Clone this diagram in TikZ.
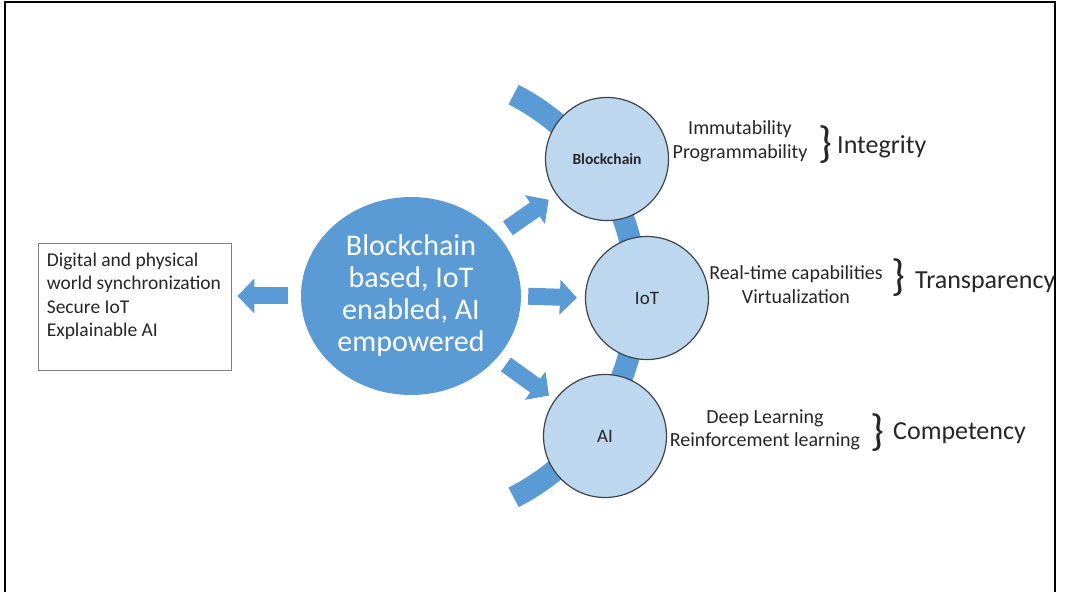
\documentclass[tikz,border=0pt]{standalone}
\usepackage{fontspec}
\setmainfont{Carlito}
\usetikzlibrary{arrows.meta,shapes.geometric}

\definecolor{hubblue}{HTML}{5B9BD5}
\definecolor{techblue}{HTML}{BDD7EE}
\definecolor{rimgray}{HTML}{3F4349}

\begin{document}
\begin{tikzpicture}[x=1pt, y=1pt,
    hub/.style={ellipse, fill=hubblue, minimum width=220pt, minimum height=198pt, inner sep=0pt, text=white, align=center, font=\fontsize{30}{32}\selectfont},
    tech/.style={circle, draw=rimgray, line width=1.2pt, fill=techblue, minimum size=123pt, inner sep=0pt, text=black!85, font=\fontsize{19}{22}\selectfont},
    bigarrow/.style={hubblue, line width=17pt, -{Triangle[length=17pt, width=34pt]}},
    ring/.style={hubblue, line width=22pt},
    feature/.style={align=center, text=black!85, font=\fontsize{20}{23.5}\selectfont},
    property/.style={anchor=west, inner sep=0pt, text=black!85, font=\fontsize{26}{30}\selectfont},
    curly/.style={inner sep=0pt, text=black!85, font=\fontsize{44}{44}\selectfont}
]
\useasboundingbox (0,0) rectangle (1065,592);

% Frame
\draw[line width=2pt] (5,0) -- (5,590) -- (1055,590) -- (1055,0);

% Centre
\node[hub] (hub) at (411,296) {Blockchain\\ based, IoT\\ enabled, AI\\ empowered};

% Ring behind the three technologies
\draw[ring] (hub.center) ++(-63:226) arc[start angle=-63, end angle=63, radius=226];

% Technologies
\node[tech] (blockchain) at (607,433) {\fontsize{15.5}{18}\selectfont\bfseries Blockchain};
\node[tech] (iot) at (647,294) {IoT};
\node[tech] (ai) at (605,156) {AI};

% Outcome box
\node[draw=gray, line width=0.8pt, minimum width=193pt, minimum height=127pt] (goals) at (134.5,285.5) {};
\node[anchor=north west, align=left, inner sep=0pt, text=black!85, font=\fontsize{19.5}{23.5}\selectfont] (goalstext) at ([xshift=9pt, yshift=-10pt]goals.north west) {Digital and physical\\ world synchronization\\ Secure IoT\\ Explainable AI};

% Arrows
\draw[bigarrow] ([xshift=-13pt]hub.west) -- ([xshift=6pt]hub.west -| goals.east);
\draw[bigarrow, shorten <=7pt, shorten >=8pt] (hub.east) -- (iot.west);
\draw[bigarrow, shorten <=12pt, shorten >=9pt] (hub) -- (blockchain);
\draw[bigarrow, shorten <=11pt, shorten >=7pt] (hub) -- (ai);

% Features and properties
\node[feature] (bcfeat) at (740,450.5) {Immutability\\ Programmability};
\node[curly] (bcbrace) at (825,447) {\}};
\node[property] (integrity) at (837,445) {Integrity};

\node[feature] (iotfeat) at (796,307.5) {Real-time capabilities\\ Virtualization};
\node[curly] (iotbrace) at (898,314) {\}};
\node[property] (transparency) at (915,310) {Transparency};

\node[feature] (aifeat) at (765,162) {Deep Learning\\ Reinforcement learning};
\node[curly] (aibrace) at (877,159) {\}};
\node[property] (competency) at (893,159) {Competency};

\end{tikzpicture}
\end{document}
